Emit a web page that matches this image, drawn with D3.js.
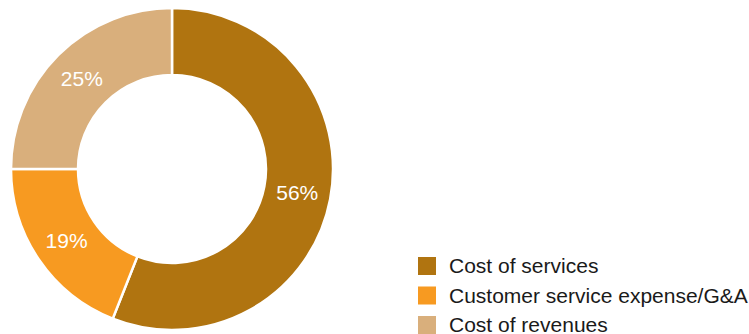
<!DOCTYPE html>
<html>
<head>
<meta charset="utf-8">
<script src="https://cdn.jsdelivr.net/npm/d3@7"></script>
<style>
  html, body { margin: 0; padding: 0; background: #fff; }
  svg { display: block; font-family: "Liberation Sans", Arial, Helvetica, sans-serif; }
</style>
</head>
<body>
<svg id="chart" width="749" height="334"></svg>
<script>
// Cost breakdown shares (percent)
const categories = ["Cost of services", "Customer service expense/G&A", "Cost of revenues"];
const shares = [56, 19, 25];
const colors = ["#B07410", "#F79A21", "#D9AF7C"];

const svg = d3.select("#chart");
const cx = 172, cy = 169;
const outerR = 161, innerR = 94;

const data = categories.map((c, i) => ({ name: c, value: shares[i], color: colors[i] }));

const pie = d3.pie().value(d => d.value).sort(null);
const arc = d3.arc().innerRadius(innerR).outerRadius(outerR);
const labelArc = d3.arc().innerRadius((innerR + outerR) / 2).outerRadius((innerR + outerR) / 2);

const g = svg.append("g").attr("transform", `translate(${cx},${cy})`);

g.selectAll("path")
  .data(pie(data))
  .join("path")
  .attr("d", arc)
  .attr("fill", d => d.data.color)
  .attr("stroke", "#fff")
  .attr("stroke-width", 2.5);

g.selectAll("text.pct")
  .data(pie(data))
  .join("text")
  .attr("class", "pct")
  .attr("transform", d => `translate(${labelArc.centroid(d)})`)
  .attr("text-anchor", "middle")
  .attr("dy", "0.35em")
  .attr("fill", "#fff")
  .attr("font-size", 21)
  .text(d => d.data.value + "%");

// Legend
const legend = svg.append("g").attr("transform", "translate(418,257)");
const row = legend.selectAll("g")
  .data(data)
  .join("g")
  .attr("transform", (d, i) => `translate(0,${i * 29.5})`);

row.append("rect")
  .attr("width", 18)
  .attr("height", 18)
  .attr("fill", d => d.color);

row.append("text")
  .attr("x", 31)
  .attr("y", 9)
  .attr("dy", "0.35em")
  .attr("fill", "#1a1a1a")
  .attr("font-size", 21)
  .text(d => d.name);
</script>
</body>
</html>
